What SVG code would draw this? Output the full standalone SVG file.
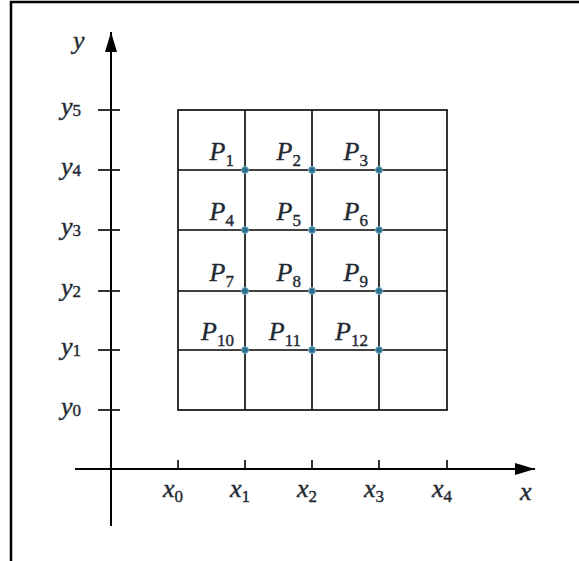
<svg xmlns="http://www.w3.org/2000/svg" width="579" height="561" viewBox="0 0 579 561">
<defs>
<style>
.frame{fill:none;stroke:#000;stroke-width:2.5}
.axis{fill:none;stroke:#000;stroke-width:2}
.grid{fill:none;stroke:#000;stroke-width:1.6}
.tick{fill:none;stroke:#000;stroke-width:1.6}
.lbl{font-style:italic;font-size:26px;fill:#1f2a33;stroke:#1f2a33;stroke-width:0.4}
.sub{font-style:normal;font-size:17px}
.dot{fill:#2b6f8c;stroke:#7fb3c8;stroke-width:1}
</style>
<marker id="arr" markerUnits="userSpaceOnUse" markerWidth="20" markerHeight="12" refX="20" refY="6" orient="auto">
<path d="M0,0 L20,6 L0,12 z" fill="#000"/>
</marker>
</defs>
<rect width="579" height="561" fill="#fff"/>
<path class="frame" d="M11,561 L11,2 L579,2"/>

<g id="connectors">
<line class="axis" x1="111" y1="526" x2="111" y2="32" marker-end="url(#arr)"/>
<line class="axis" x1="75" y1="469" x2="535" y2="469" marker-end="url(#arr)"/>
<g id="yticks">
<line class="tick" x1="98" y1="110" x2="120" y2="110"/>
<line class="tick" x1="98" y1="170" x2="120" y2="170"/>
<line class="tick" x1="98" y1="230" x2="120" y2="230"/>
<line class="tick" x1="98" y1="291" x2="120" y2="291"/>
<line class="tick" x1="98" y1="350" x2="120" y2="350"/>
<line class="tick" x1="98" y1="410" x2="120" y2="410"/>
</g>
<g id="xticks">
<line class="tick" x1="178" y1="460" x2="178" y2="469"/>
<line class="tick" x1="245" y1="460" x2="245" y2="469"/>
<line class="tick" x1="312" y1="460" x2="312" y2="469"/>
<line class="tick" x1="379" y1="460" x2="379" y2="469"/>
<line class="tick" x1="447" y1="460" x2="447" y2="469"/>
</g>
</g>

<g id="grid">
<rect class="grid" x="178" y="110" width="269" height="300"/>
<line class="grid" x1="245" y1="110" x2="245" y2="410"/>
<line class="grid" x1="312" y1="110" x2="312" y2="410"/>
<line class="grid" x1="379" y1="110" x2="379" y2="410"/>
<line class="grid" x1="178" y1="170" x2="447" y2="170"/>
<line class="grid" x1="178" y1="230" x2="447" y2="230"/>
<line class="grid" x1="178" y1="291" x2="447" y2="291"/>
<line class="grid" x1="178" y1="350" x2="447" y2="350"/>
</g>

<g id="labels" font-family="'Liberation Serif', 'DejaVu Serif', serif">
<g id="axis-labels">
<text class="lbl" x="73" y="49">y</text>
<text class="lbl" x="520" y="500">x</text>
</g>
<g id="y-labels" class="lbl">
<text x="61" y="115">y<tspan class="sub" dy="1">5</tspan></text>
<text x="61" y="175">y<tspan class="sub" dy="1">4</tspan></text>
<text x="61" y="235">y<tspan class="sub" dy="1">3</tspan></text>
<text x="61" y="296">y<tspan class="sub" dy="1">2</tspan></text>
<text x="61" y="355">y<tspan class="sub" dy="1">1</tspan></text>
<text x="61" y="415">y<tspan class="sub" dy="1">0</tspan></text>
</g>
<g id="x-labels" class="lbl">
<text x="163" y="497">x<tspan class="sub" dy="5">0</tspan></text>
<text x="230" y="497">x<tspan class="sub" dy="5">1</tspan></text>
<text x="297" y="497">x<tspan class="sub" dy="5">2</tspan></text>
<text x="364" y="497">x<tspan class="sub" dy="5">3</tspan></text>
<text x="432" y="497">x<tspan class="sub" dy="5">4</tspan></text>
</g>

<g id="p1"><circle class="dot" cx="245" cy="170" r="3.5"/><text class="lbl" x="234" y="160" text-anchor="end">P<tspan class="sub" dy="6">1</tspan></text></g>
<g id="p2"><circle class="dot" cx="312" cy="170" r="3.5"/><text class="lbl" x="301" y="160" text-anchor="end">P<tspan class="sub" dy="6">2</tspan></text></g>
<g id="p3"><circle class="dot" cx="379" cy="170" r="3.5"/><text class="lbl" x="368" y="160" text-anchor="end">P<tspan class="sub" dy="6">3</tspan></text></g>
<g id="p4"><circle class="dot" cx="245" cy="230" r="3.5"/><text class="lbl" x="234" y="220" text-anchor="end">P<tspan class="sub" dy="6">4</tspan></text></g>
<g id="p5"><circle class="dot" cx="312" cy="230" r="3.5"/><text class="lbl" x="301" y="220" text-anchor="end">P<tspan class="sub" dy="6">5</tspan></text></g>
<g id="p6"><circle class="dot" cx="379" cy="230" r="3.5"/><text class="lbl" x="368" y="220" text-anchor="end">P<tspan class="sub" dy="6">6</tspan></text></g>
<g id="p7"><circle class="dot" cx="245" cy="291" r="3.5"/><text class="lbl" x="234" y="281" text-anchor="end">P<tspan class="sub" dy="6">7</tspan></text></g>
<g id="p8"><circle class="dot" cx="312" cy="291" r="3.5"/><text class="lbl" x="301" y="281" text-anchor="end">P<tspan class="sub" dy="6">8</tspan></text></g>
<g id="p9"><circle class="dot" cx="379" cy="291" r="3.5"/><text class="lbl" x="368" y="281" text-anchor="end">P<tspan class="sub" dy="6">9</tspan></text></g>
<g id="p10"><circle class="dot" cx="245" cy="350" r="3.5"/><text class="lbl" x="234" y="340" text-anchor="end">P<tspan class="sub" dy="6">10</tspan></text></g>
<g id="p11"><circle class="dot" cx="312" cy="350" r="3.5"/><text class="lbl" x="301" y="340" text-anchor="end">P<tspan class="sub" dy="6">11</tspan></text></g>
<g id="p12"><circle class="dot" cx="379" cy="350" r="3.5"/><text class="lbl" x="368" y="340" text-anchor="end">P<tspan class="sub" dy="6">12</tspan></text></g>
</g>
</svg>
